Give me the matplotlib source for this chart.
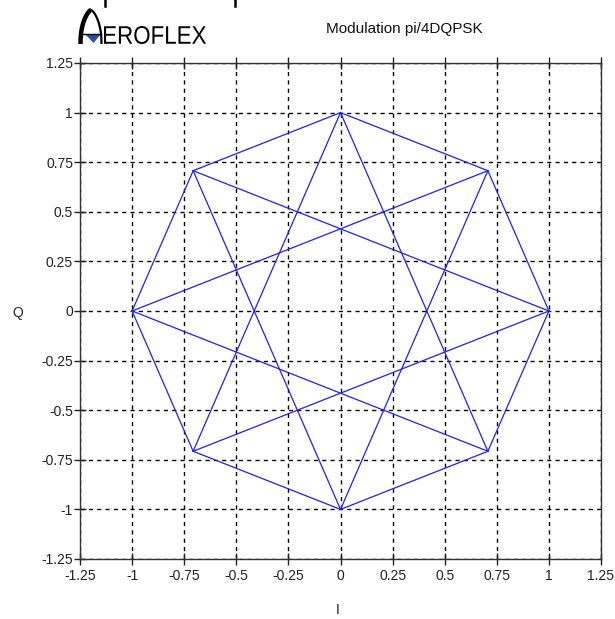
import numpy as np
import matplotlib
matplotlib.use("Agg")
import matplotlib.pyplot as plt
from matplotlib.textpath import TextPath
from matplotlib.patches import PathPatch, Polygon
from matplotlib.font_manager import FontProperties
from matplotlib.transforms import Affine2D

# pi/4 DQPSK constellation: eight phase states on the unit circle
state_i = [1.0, 0.7071, 0.0, -0.7071, -1.0, -0.7071, 0.0, 0.7071]
state_q = [0.0, 0.7071, 1.0, 0.7071, 0.0, -0.7071, -1.0, -0.7071]

# allowed symbol transitions (+/-45 deg and +/-135 deg phase steps)
transitions = [(0, 1), (1, 2), (2, 3), (3, 4), (4, 5), (5, 6), (6, 7), (7, 0),
               (0, 3), (3, 6), (6, 1), (1, 4), (4, 7), (7, 2), (2, 5), (5, 0)]

tick_values = [-1.25, -1, -0.75, -0.5, -0.25, 0, 0.25, 0.5, 0.75, 1, 1.25]
tick_labels = ["-1.25", "-1", "-0.75", "-0.5", "-0.25", "0", "0.25", "0.5", "0.75", "1", "1.25"]

title = "Modulation pi/4DQPSK"

plt.rcParams['font.family'] = ['Liberation Sans', 'DejaVu Sans']

W, H = 615, 619
fig = plt.figure(figsize=(W / 100, H / 100), dpi=100)
fig.patch.set_facecolor("white")

ax = fig.add_axes([80 / W, 1 - 559 / H, (601 - 80) / W, (559 - 63) / H])
for a, b in transitions:
    ax.plot([state_i[a], state_i[b]], [state_q[a], state_q[b]],
            color="#1f1fff", lw=0.9, zorder=3)

ax.set_xlim(-1.25, 1.25)
ax.set_ylim(-1.25, 1.25)
ax.set_xticks(tick_values)
ax.set_xticklabels(tick_labels)
ax.set_yticks(tick_values)
ax.set_yticklabels(tick_labels)
ax.tick_params(direction="inout", length=8, width=1, labelsize=10, colors="#222222",
               top=True, right=False)
ax.tick_params(axis="x", pad=3)
ax.tick_params(axis="y", pad=1)
ax.grid(True, color="black", linestyle=(0, (3, 3)), lw=1)
for s in ax.spines.values():
    s.set_color("#333333")
    s.set_linewidth(1)

# overlay in pixel coordinates for axis names and header artwork
ov = fig.add_axes([0, 0, 1, 1], zorder=5)
ov.set_xlim(0, W)
ov.set_ylim(H, 0)
ov.axis("off")
ov.patch.set_alpha(0)

ov.text(18, 313, "Q", fontsize=10, ha="center", va="center", color="#222222")
ov.text(338, 610, "I", fontsize=10, ha="center", va="center", color="#222222")

ov.text(404, 29, title, fontsize=11, ha="center", va="center", color="#111111")

# logo: pointed arch with blue triangle, then the lettering
cx, r = 91.0, 10.5
d = np.linspace(1, 0, 60)
arch_y = 44 - 34 * (1 - d ** 1.4) ** 0.45
ov.plot(cx - r * d, arch_y, color="black", lw=3.2, solid_capstyle="butt")
ov.plot(cx + r * d, arch_y, color="black", lw=1.6, solid_capstyle="butt")
ov.add_patch(Polygon([[85, 34], [101, 34], [93.5, 43]], closed=True,
                     facecolor="#2a4fa8", edgecolor="none"))
ov.plot([83, 101], [34, 34], color="black", lw=1)

tp = TextPath((0, 0), "EROFLEX", size=20, prop=FontProperties(family="Liberation Sans"))
ext = tp.get_extents()
sx = (206 - 104) / ext.width
sy = (44 - 26) / ext.height
trans = Affine2D().translate(-ext.x0, -ext.y0).scale(sx, -sy).translate(104, 44)
ov.add_patch(PathPatch(trans.transform_path(tp), facecolor="black", edgecolor="none"))

# descender strokes of the cropped caption at the very top
ov.plot([105, 105], [0, 6], color="black", lw=1.8)
ov.plot([235, 235], [0, 6], color="black", lw=1.8)

fig.savefig("out.png", dpi=100, facecolor="white")
